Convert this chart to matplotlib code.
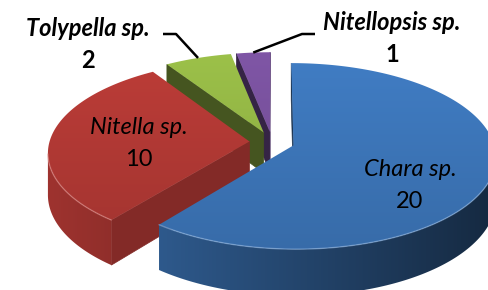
import numpy as np
import matplotlib.pyplot as plt
from matplotlib.patches import Polygon
from matplotlib.colors import to_rgb

species = ['Chara sp.', 'Nitella sp.', 'Tolypella sp.', 'Nitellopsis sp.']
counts = [20, 10, 2, 1]
colors = ['#4382CC', '#C43F3A', '#A2C84C', '#8459AC']

# label placement (pixels); the count goes one line below the name
label_pos = [(410, 170), (139, 128), (88, 28), (392, 23)]
label_bold = [False, False, True, True]
leader_elbow = [None, None, (176, 34), (302, 34)]
leader_text_end = [None, None, (163, 34), (315, 34)]

# fake 3-D pie: a projective squash of the unit disk, pixel units
CX, CY = 272.0, 142.0
RX, RY = 200.0, 91.0
THICK = 41.0
PERSP = 0.115
EXPLODE = 0.113
camera = np.array([0.0, -1.0 / PERSP])


def project(u, v, z=0.0):
    f = 1.0 / (1.0 + PERSP * np.asarray(v))
    return CX + RX * np.asarray(u) * f, CY - RY * np.asarray(v) * f + THICK * np.asarray(z) * f


def shade(color, k):
    return tuple(np.clip(np.array(to_rgb(color)) * k, 0, 1))


fig = plt.figure(figsize=(4.88, 2.90), dpi=100)
ax = fig.add_axes([0, 0, 1, 1])

total = sum(counts)
start = 90.0
sides = []   # (distance, kind, xy, color)
tops = []
edges = []
anchors = []
for name, n, col in zip(species, counts, colors):
    sweep = 360.0 * n / total
    th = np.radians(np.linspace(start, start - sweep, max(int(sweep), 4) + 1))
    mid = np.radians(start - sweep / 2)
    ou, ov = EXPLODE * np.cos(mid), EXPLODE * np.sin(mid)
    au, av = ou + np.cos(th), ov + np.sin(th)

    tx, ty = project(np.r_[ou, au], np.r_[ov, av])
    tops.append((np.c_[tx, ty], col))
    anchors.append(project(ou + np.cos(mid), ov + np.sin(mid)))

    # outer rim: the part that faces the eye, as one band
    seen = np.array([np.dot(camera - np.array([ou + np.cos(t), ov + np.sin(t)]),
                            [np.cos(t), np.sin(t)]) > 0 for t in th])
    if seen.sum() > 1:
        ru, rv = au[seen], av[seen]
        x0, y0 = project(ru, rv, 0)
        x1, y1 = project(ru, rv, 1)
        xy = np.c_[np.r_[x0, x1[::-1]], np.r_[y0, y1[::-1]]]
        tm = th[seen].mean()
        d = np.linalg.norm(camera - np.array([ou + np.cos(tm), ov + np.sin(tm)]))
        sides.append((d, 'rim', xy, col))
        edges.append((x0, y0, col))

    # the two flat walls of the slice
    for a, sgn in ((th[0], 1), (th[-1], -1)):
        nrm = sgn * np.array([-np.sin(a), np.cos(a)])
        p = np.array([ou + 0.5 * np.cos(a), ov + 0.5 * np.sin(a)])
        if np.dot(camera - p, nrm) <= 0:
            continue
        us = [ou, ou + np.cos(a), ou + np.cos(a), ou]
        vs = [ov, ov + np.sin(a), ov + np.sin(a), ov]
        x, y = project(us, vs, [0, 0, 1, 1])
        k = 0.55 + 0.15 * nrm[0]
        sides.append((np.linalg.norm(camera - p), 'wall', np.c_[x, y], shade(col, k)))

    start -= sweep

xs = np.arange(488)
rim_k = np.clip(0.86 - 0.0011 * xs, 0.3, 1)[None, :] * np.ones((290, 1))
top_k = np.linspace(1.0, 0.8, 290)[:, None] * np.ones((1, 488))


def fill_gradient(xy, col, kk, zo):
    poly = Polygon(xy, closed=True, facecolor='none', edgecolor='none', zorder=zo)
    ax.add_patch(poly)
    img = np.clip(kk[:, :, None] * np.array(to_rgb(col))[None, None, :], 0, 1)
    im = ax.imshow(img, extent=(0, 488, 290, 0), zorder=zo, interpolation='bilinear')
    im.set_clip_path(poly)


z = 1
for _, kind, xy, c in sorted(sides, key=lambda s: -s[0]):
    if kind == 'rim':
        fill_gradient(xy, c, rim_k, z)
    else:
        ax.add_patch(Polygon(xy, closed=True, facecolor=c, edgecolor=c, lw=0.5, zorder=z))
    z += 1

for xy, c in tops:
    fill_gradient(xy, c, top_k, z)
    z += 1

# soft highlight along the front edge of each top
for x0, y0, c in edges:
    hl = tuple(np.clip(np.array(to_rgb(c)) * 0.6 + 0.4, 0, 1))
    ax.plot(x0, y0, color=hl, lw=1.0, alpha=0.55, zorder=z, solid_capstyle='round')

ax.set_xlim(0, 488)
ax.set_ylim(290, 0)
ax.set_aspect('auto')
ax.axis('off')

for i, (name, n) in enumerate(zip(species, counts)):
    x, y = label_pos[i]
    w = 'bold' if label_bold[i] else 'normal'
    ax.text(x, y, name, ha='center', va='center', fontsize=17, family='Lato',
            style='italic', fontweight=w, zorder=z + 2)
    ax.text(x, y + 32, str(n), ha='center', va='center', fontsize=17, family='Lato',
            fontweight=w, zorder=z + 2)
    if leader_elbow[i] is not None:
        ex, ey = leader_elbow[i]
        sx, sy = leader_text_end[i]
        px, py = anchors[i]
        ax.plot([sx, ex, px], [sy, ey, py], color='black', lw=1.8, zorder=z + 1,
                solid_capstyle='butt')

fig.savefig('out.png', dpi=100)
